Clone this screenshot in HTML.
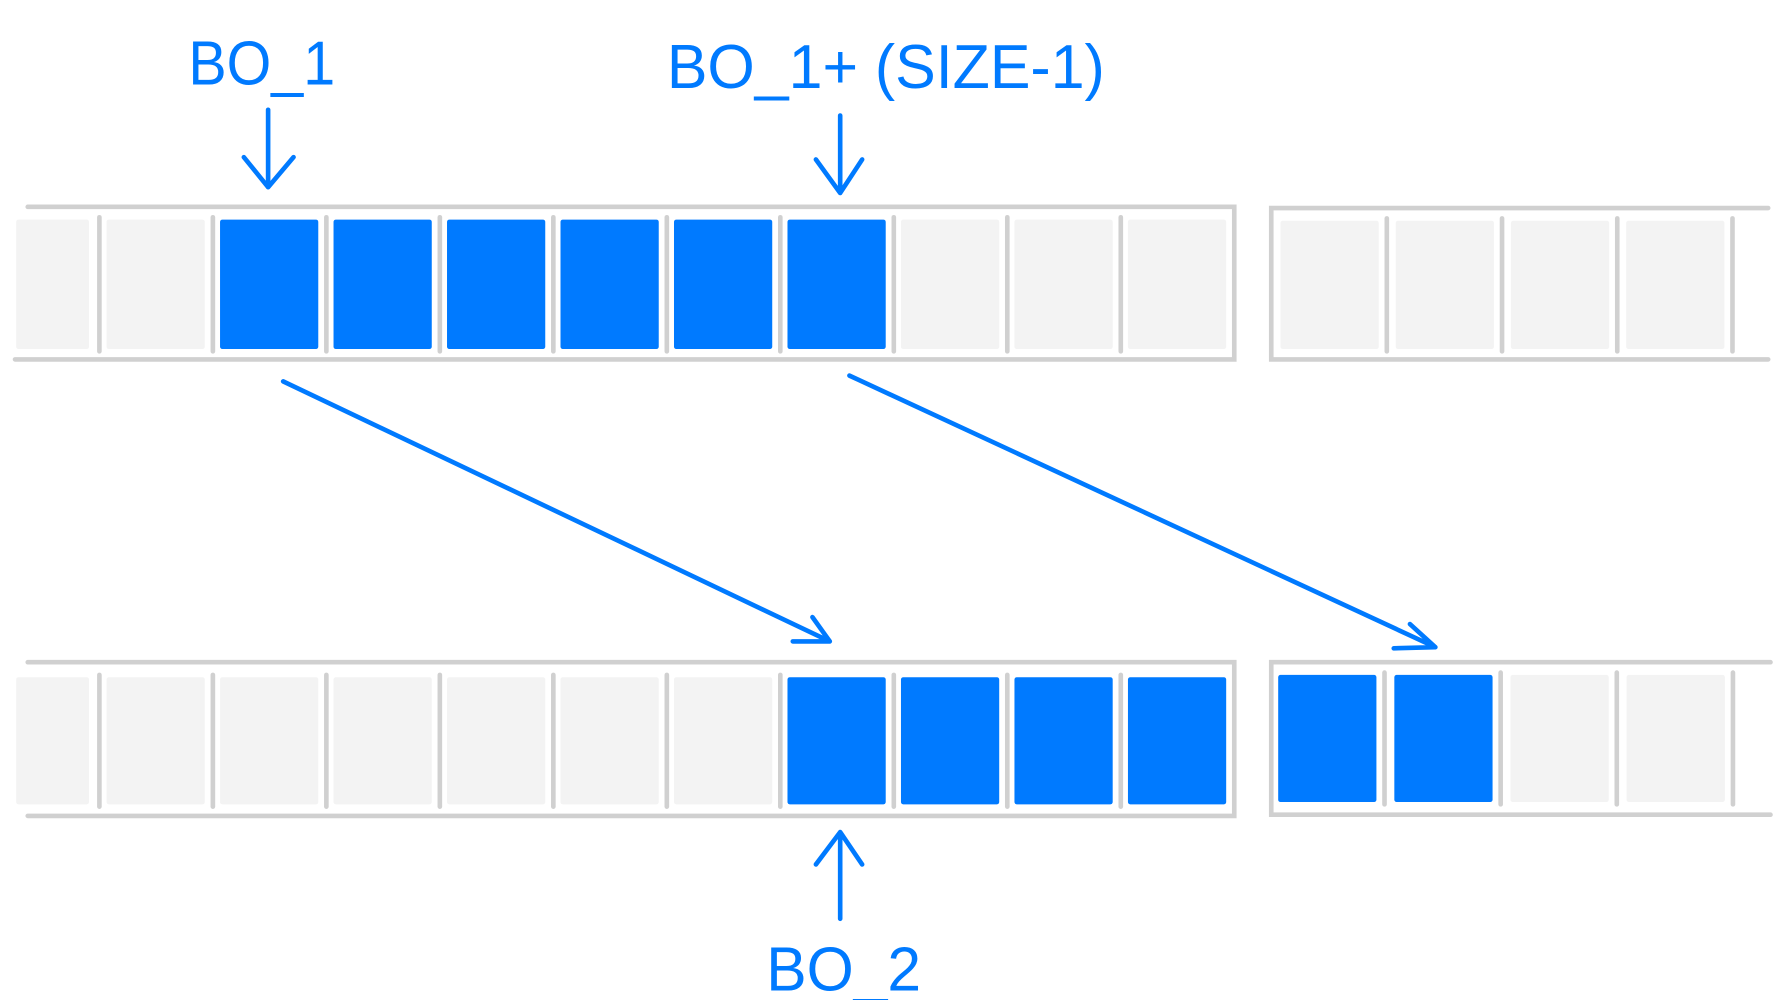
<!DOCTYPE html>
<html><head><meta charset="utf-8"><style>
html,body{margin:0;padding:0;background:#fff;}
svg{display:block;}
text{font-family:"Liberation Sans",sans-serif;fill:#007AFF;}
</style></head><body>
<svg id="diagram" width="1789" height="1000" viewBox="0 0 1548 865.3" preserveAspectRatio="none">
<g id="cells"></g>
<g id="frames" stroke="#D0D0D0" stroke-width="4" fill="none" stroke-linecap="round">
  <path d="M24 179 H1068 V311 H13"/>
  <path d="M1530 180 H1100 V311 H1530"/>
  <path d="M24 573 H1068 V706 H24"/>
  <path d="M1532 573 H1100 V705 H1532"/>
</g>
<g stroke="#007AFF" stroke-width="4" fill="none" stroke-linecap="round" stroke-linejoin="round">
  <path d="M232 95 V162 M211 136 L232 162 L254 136"/>
  <path d="M727 100 V167 M706 138 L727 167 L746 138"/>
  <path d="M245 330 L718 555 M703 534 L718 555 L686 555"/>
  <path d="M735 325 L1242 560 M1220 540 L1242 560 L1206 561"/>
  <path d="M727 795 V720 M706 748 L727 720 L746 748"/>
</g>
<text x="163" y="73" font-size="54" textLength="127" lengthAdjust="spacingAndGlyphs">BO_1</text>
<text x="577" y="76" font-size="54" textLength="379" lengthAdjust="spacingAndGlyphs">BO_1+ (SIZE-1)</text>
<text x="663" y="857" font-size="54" textLength="134" lengthAdjust="spacingAndGlyphs">BO_2</text>
</svg>
<script>
const topCells = [0,0,1,1,1,1,1,1,0,0,0];
const topRight = [0,0,0,0];
const botCells = [0,0,0,0,0,0,0,1,1,1,1];
const botRight = [1,1,0,0];
const NS = "http://www.w3.org/2000/svg";
const g = document.getElementById('cells');
function rect(x,y,w,h,fill,name){
  const r=document.createElementNS(NS,'rect');
  r.setAttribute('x',x);r.setAttribute('y',y);r.setAttribute('width',w);r.setAttribute('height',h);
  r.setAttribute('rx',2);r.setAttribute('fill',fill);
  
  
  g.appendChild(r);
}
function line(x,y1,y2){
  const l=document.createElementNS(NS,'line');
  l.setAttribute('x1',x);l.setAttribute('x2',x);l.setAttribute('y1',y1);l.setAttribute('y2',y2);
  l.setAttribute('stroke','#D0D0D0');l.setAttribute('stroke-width',4);l.setAttribute('stroke-linecap','round');
  
  
  g.appendChild(l);
}
function strip(arr,x0,pitch,w,y,h,prefix,firstPartial){
  arr.forEach((v,i)=>{
    let x=x0+i*pitch, ww=w;
    if(i===0&&firstPartial){x=14;ww=63;}
    rect(x,y,ww,h,v?'#007AFF':'#F3F3F3',prefix+'-cell-'+i);
    if(!(firstPartial && i===arr.length-1)) line(x0+i*pitch+w+7,y-2,y+h+2);
  });
}
strip(topCells,-6,98.2,85,190,112,'top',true);
strip(topRight,1108,99.7,85,191,111,'top-right',false);
strip(botCells,-6,98.2,85,586,110,'bottom',true);
strip(botRight,1106,100.5,85,584,110,'bottom-right',false);
</script>
</body></html>
